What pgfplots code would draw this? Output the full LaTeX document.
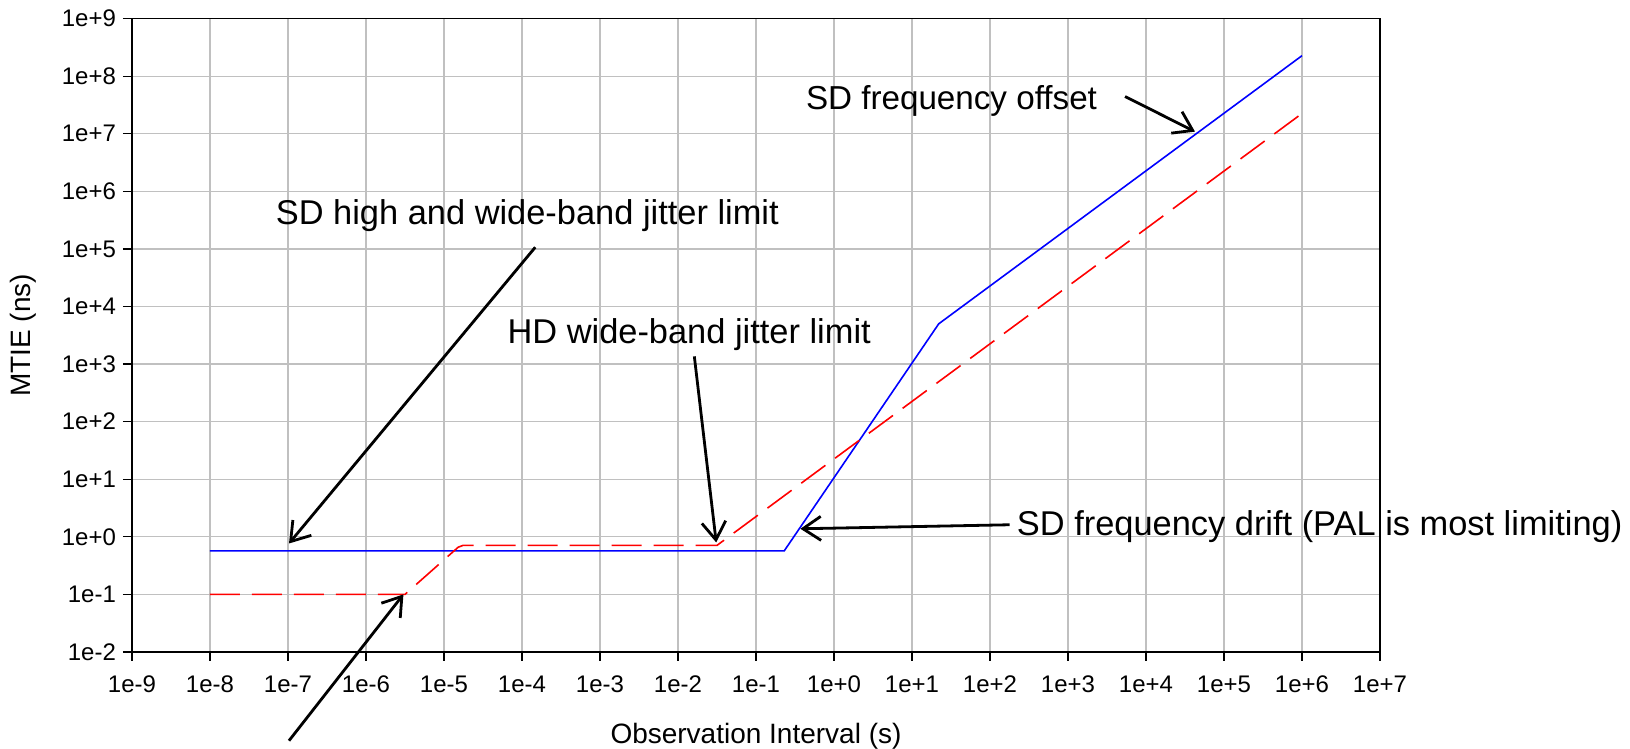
\documentclass[border=0pt]{standalone}
\usepackage{fontspec}
\setmainfont{Liberation Sans}
\usepackage{pgfplots}
\pgfplotsset{compat=1.18}
\usetikzlibrary{arrows.meta}

\definecolor{gridgray}{RGB}{192,192,192}

\begin{document}
\begin{tikzpicture}
\useasboundingbox (0,0) rectangle (815pt,374.5pt);
\begin{axis}[
    at={(66pt,48.5pt)}, anchor=south west,
    scale only axis, width=624pt, height=316.7pt,
    xmode=log, ymode=log,
    xmin=1e-9, xmax=1e7, ymin=1e-2, ymax=1e9,
    xtick={1e-9,1e-8,1e-7,1e-6,1e-5,1e-4,1e-3,1e-2,1e-1,1e0,1e1,1e2,1e3,1e4,1e5,1e6,1e7},
    xticklabels={1e-9,1e-8,1e-7,1e-6,1e-5,1e-4,1e-3,1e-2,1e-1,1e+0,1e+1,1e+2,1e+3,1e+4,1e+5,1e+6,1e+7},
    ytick={1e-2,1e-1,1e0,1e1,1e2,1e3,1e4,1e5,1e6,1e7,1e8,1e9},
    yticklabels={1e-2,1e-1,1e+0,1e+1,1e+2,1e+3,1e+4,1e+5,1e+6,1e+7,1e+8,1e+9},
    xminorticks=false, yminorticks=false,
    xtick pos=bottom, ytick pos=left, tick align=outside,
    major tick length=4.5pt,
    tick style={black, line width=0.6pt},
    ticklabel style={font=\fontsize{12}{14}\selectfont},
    xticklabel style={yshift=-4pt},
    grid=major, major grid style={gridgray, line width=0.6pt},
    axis line style={line width=0.6pt},
    xlabel={Observation Interval (s)}, ylabel={MTIE (ns)},
    label style={font=\fontsize{14}{16}\selectfont},
    xlabel style={at={(axis description cs:0.5,-0.133)}, anchor=center},
    ylabel style={at={(axis description cs:-0.0873,0.5)}, anchor=center},
    clip=false,
]
% SD limits
\addplot[blue, line width=0.8pt] coordinates {
(1e-8,0.57) (0.23,0.57) (22,5000) (1e6,2.27e8)
};
% HD limits
\addplot[red, line width=0.8pt, dash pattern=on 15pt off 6pt] coordinates {
(1e-8,0.1) (3.16e-6,0.1) (1.52e-5,0.66) (1.75e-5,0.71) (0.0316,0.71) (1e6,2.25e7)
};

\draw[line width=1.4pt] (rel axis cs:0,0) -- (rel axis cs:0,1);
\draw[line width=1.2pt] (rel axis cs:1,0) -- (rel axis cs:1,1);

\tikzset{annot/.style={font=\fontsize{17.2}{20}\selectfont, anchor=west, inner sep=0pt},
         pointer/.style={line width=1.4pt, -{Straight Barb[length=9pt,width=12pt,line width=1.4pt]}}}
\node[annot, font=\fontsize{16.6}{19}\selectfont] at (axis cs:0.4325,3.76e7) {SD frequency offset};
\draw[pointer] (axis cs:5383,4.43e7) -- (axis cs:4.25e4,1.09e7);
\node[annot] at (axis cs:6.92e-8,3.72e5) {SD high and wide-band jitter limit};
\draw[pointer] (axis cs:1.48e-4,1.07e5) -- (axis cs:1.03e-7,0.767);
\node[annot] at (axis cs:6.46e-5,3266) {HD wide-band jitter limit};
\draw[pointer] (axis cs:0.0162,1361) -- (axis cs:0.0309,0.80);
\node[annot] at (axis cs:219,1.5) {SD frequency drift (PAL is most limiting)};
\draw[pointer] (axis cs:178,1.62) -- (axis cs:0.371,1.38);
\draw[pointer] (axis cs:1.03e-7,2.88e-4) -- (axis cs:3.02e-6,0.1);
\end{axis}
\end{tikzpicture}
\end{document}
